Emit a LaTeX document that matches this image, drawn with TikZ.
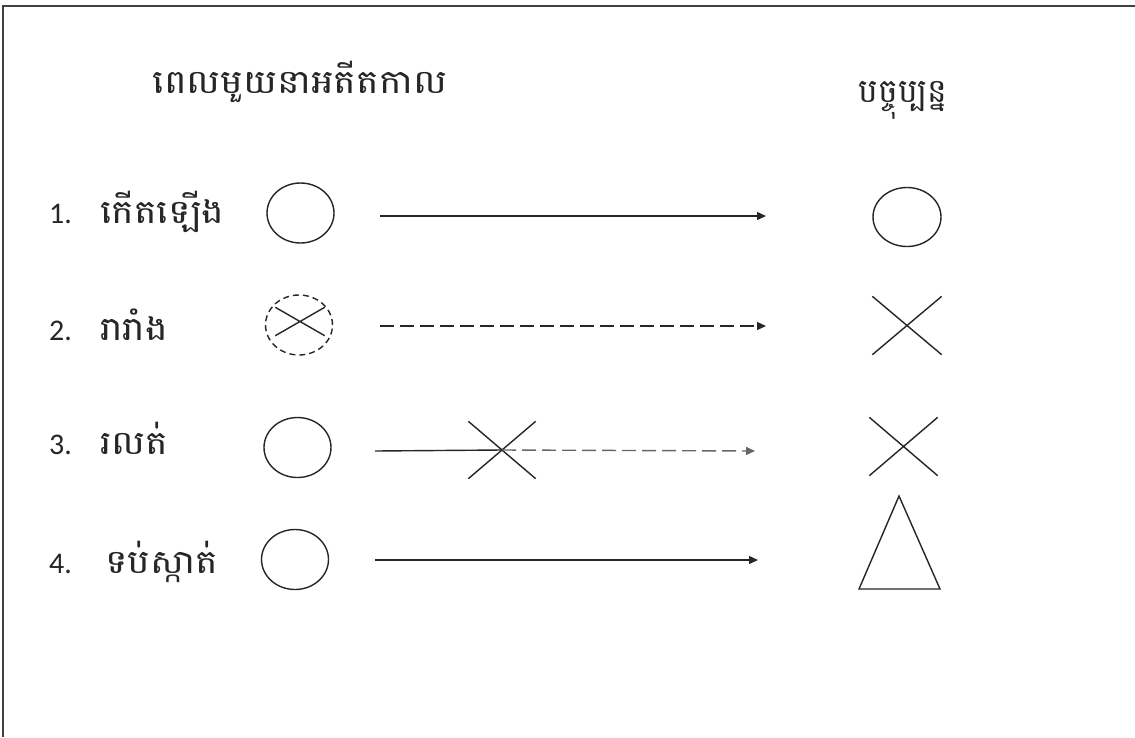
\documentclass[tikz,border=0pt]{standalone}
\usepackage{fontspec}
\setmainfont{Carlito}
\newfontfamily\khmer[Script=Khmer, FakeStretch=1.15]{Battambang}
\newfontfamily\khmerplain[Script=Khmer]{Battambang}
\usetikzlibrary{shapes.geometric,shapes.misc,arrows.meta}
\begin{document}
\begin{tikzpicture}[x=1pt,y=-1pt,
  ln/.style={line width=1.4pt, black!85},
  ov/.style={ellipse, draw, ln, minimum width=67pt, minimum height=60pt, inner sep=0pt},
  xx/.style={cross out, draw, ln, inner sep=0pt},
  arr/.style={ln, -{Triangle[length=9pt,width=8pt]}},
  dsh/.style={dash pattern=on 14pt off 6pt},
  num/.style={anchor=base west, font=\fontsize{30}{36}\selectfont, inner sep=0pt, text=black!85},
  kh/.style={anchor=base west, font=\khmer\fontsize{33}{40}\selectfont, inner sep=0pt, text=black!85},
  ttl/.style={anchor=base, font=\khmer\fontsize{33}{40}\selectfont, inner sep=0pt, text=black!85},
]
\useasboundingbox (0,0) rectangle (1135,737);
\fill[white] (0,0) rectangle (1135,737);
% frame
\draw[line width=2pt, black!75] (3,737) -- (3,5.5) -- (1135,5.5);

% titles
\node[ttl] (tpast) at (300,93) {ពេលមួយនាអតីតកាល};
\node[ttl, font=\khmerplain\fontsize{33}{40}\selectfont] (tnow) at (903,102) {បច្ចុប្បន្ន};

% row labels
\node[num] (n1) at (49,223) {1.};
\node[kh]  (k1) at (100,223) {កើតឡើង};
\node[num] (n2) at (49,340) {2.};
\node[kh]  (k2) at (100,340) {រារាំង};
\node[num] (n3) at (49,454) {3.};
\node[kh]  (k3) at (100,454) {រលត់};
\node[num] (n4) at (49,573) {4.};
\node[kh]  (k4) at (105,573) {ទប់ស្កាត់};

% past symbols
\node[ov] (c1) at (300.5,213) {};
\node[ov, dash pattern=on 6pt off 4pt] (c2) at (299,325) {};
\node[xx, minimum width=48pt, minimum height=27pt] (cx2) at (300,321.5) {};
\node[ov] (c3) at (297.5,447.5) {};
\node[ov] (c4) at (295,559.5) {};

% present symbols
\node[ov, minimum width=68pt, minimum height=59pt] (p1) at (907,217) {};
\node[xx, minimum width=68pt, minimum height=57pt] (p2) at (907,325.5) {};
\node[xx, minimum width=67pt, minimum height=57pt] (p3) at (903.5,446.5) {};
\coordinate (tA) at (899,496);
\coordinate (tB) at (859,589);
\coordinate (tC) at (940,589);
\draw[ln, line join=miter] (tA) -- (tB) -- (tC) -- cycle;

% arrows
\coordinate (a1s) at (380,216);
\coordinate (a1e) at (766,216);
\draw[arr] (a1s) -- (a1e);

\coordinate (a2s) at (380,326);
\coordinate (a2e) at (766,326);
\draw[arr, dsh] (a2s) -- (a2e);

\coordinate (a3s) at (375,451);
\coordinate (a3e) at (755,451);
\node[xx, minimum width=66pt, minimum height=56pt] (x3) at (502,450) {};
\draw[ln] (a3s) -- (x3.center);
\draw[arr, dsh, black!60] (x3.center) -- (a3e);

\coordinate (a4s) at (375,560);
\coordinate (a4e) at (758,560);
\draw[arr] (a4s) -- (a4e);
\end{tikzpicture}
\end{document}
